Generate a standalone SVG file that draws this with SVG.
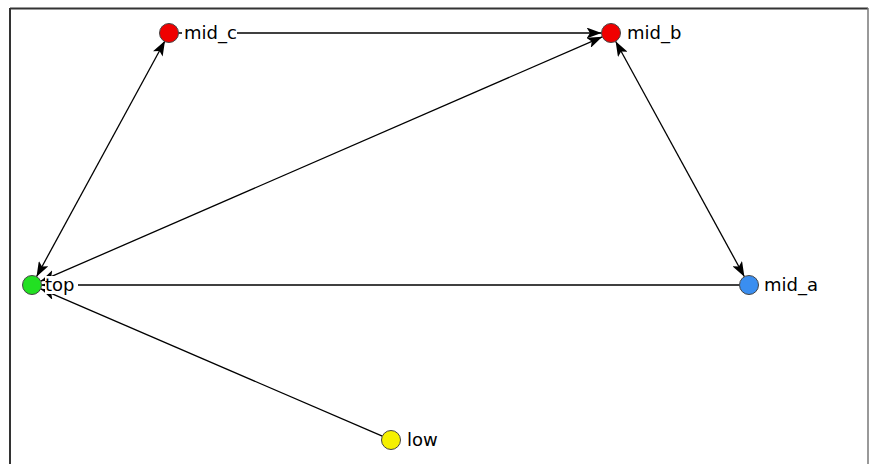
<svg xmlns="http://www.w3.org/2000/svg" width="869" height="464" viewBox="0 0 869 464">
<style>
.edge{stroke:#000;stroke-width:1.3;fill:none}
.node{stroke:#444;stroke-width:1}
.lbl{font-family:"DejaVu Sans","Liberation Sans",sans-serif;font-size:18px;fill:#000}
.lblbg{fill:#fff}
</style>
<defs>
<marker id="arr" viewBox="0 0 15 11" refX="15" refY="5.5" markerWidth="15" markerHeight="11" markerUnits="userSpaceOnUse" orient="auto-start-reverse">
<path d="M0,0 L15,5.5 L0,11 L3.5,5.5 z" fill="#000"/>
</marker>
</defs>
<rect x="0" y="0" width="869" height="464" fill="#fff"/>
<g id="frame">
<line x1="10" y1="8.5" x2="868" y2="8.5" stroke="#333" stroke-width="2"/>
<line x1="10" y1="8" x2="10" y2="464" stroke="#333" stroke-width="2"/>
<line x1="868" y1="8" x2="868" y2="464" stroke="#777" stroke-width="1.5"/>
</g>
<g id="edges">
<line class="edge" x1="36.5" y1="276.7" x2="165" y2="40.8" marker-start="url(#arr)" marker-end="url(#arr)"/>
<line class="edge" x1="178.5" y1="33" x2="601.5" y2="33" marker-end="url(#arr)"/>
<line class="edge" x1="40.7" y1="281.2" x2="602.3" y2="36.8" marker-start="url(#arr)" marker-end="url(#arr)"/>
<line class="edge" x1="615.6" y1="41.3" x2="744.4" y2="276.7" marker-start="url(#arr)" marker-end="url(#arr)"/>
<line class="edge" x1="382.3" y1="436.2" x2="40.7" y2="288.8" marker-end="url(#arr)"/>
<line class="edge" x1="739.5" y1="285" x2="41.5" y2="285" marker-end="url(#arr)"/>
</g>
<g id="top">
<circle class="node" cx="32" cy="285" r="9.5" fill="#22e022"/>
<rect class="lblbg" x="45" y="276" width="33" height="18"/>
<text class="lbl" x="45" y="291">top</text>
</g>
<g id="mid_c">
<circle class="node" cx="169" cy="33" r="9.5" fill="#f00000"/>
<rect class="lblbg" x="182" y="24" width="55" height="18"/>
<text class="lbl" x="184" y="39">mid_c</text>
</g>
<g id="mid_b">
<circle class="node" cx="611" cy="33" r="9.5" fill="#f00000"/>
<rect class="lblbg" x="625" y="24" width="56" height="18"/>
<text class="lbl" x="627" y="39">mid_b</text>
</g>
<g id="mid_a">
<circle class="node" cx="749" cy="285" r="9.5" fill="#3a8ef0"/>
<rect class="lblbg" x="762" y="276" width="58" height="18"/>
<text class="lbl" x="764" y="291">mid_a</text>
</g>
<g id="low">
<circle class="node" cx="391" cy="440" r="9.5" fill="#f5f000"/>
<rect class="lblbg" x="405" y="431" width="34" height="18"/>
<text class="lbl" x="407" y="446">low</text>
</g>
</svg>
